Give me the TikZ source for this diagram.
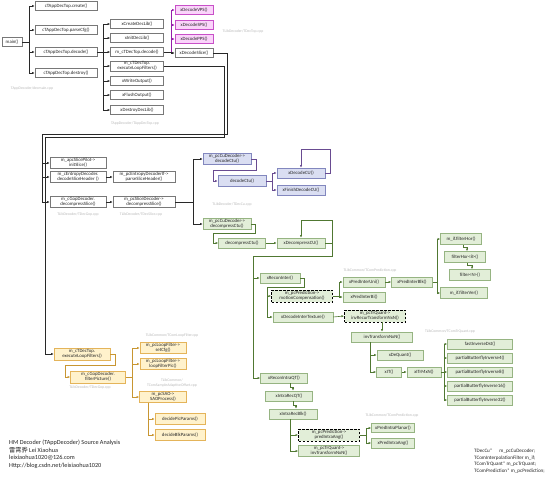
\documentclass[tikz,border=0pt]{standalone}
\usepackage{fontspec}
\setmainfont{Carlito}
\newfontfamily\cjk{Noto Sans CJK SC}
\usetikzlibrary{arrows.meta}
\definecolor{gbd}{RGB}{120,120,120}
\definecolor{pkf}{RGB}{250,212,250}
\definecolor{pkd}{RGB}{200,80,200}
\definecolor{pkc}{RGB}{150,30,170}
\definecolor{blf}{RGB}{218,222,242}
\definecolor{bld}{RGB}{130,135,190}
\definecolor{blc}{RGB}{105,75,145}
\definecolor{grf}{RGB}{226,238,216}
\definecolor{grd}{RGB}{150,180,130}
\definecolor{grc}{RGB}{80,120,50}
\definecolor{ogf}{RGB}{255,242,204}
\definecolor{ogd}{RGB}{228,180,90}
\definecolor{ogc}{RGB}{200,150,50}
\definecolor{lnc}{RGB}{40,40,40}
\tikzset{
 bx/.style={draw, rectangle, align=center, inner sep=0.3pt, font=\fontsize{4.8}{5.0}\selectfont, text=black!85, line width=0.5pt},
 sz/.style 2 args={minimum width=#1, minimum height=#2},
 gb/.style={bx, fill=white, draw=gbd},
 pk/.style={bx, fill=pkf, draw=pkd},
 bl/.style={bx, fill=blf, draw=bld},
 gr/.style={bx, fill=grf, draw=grd},
 dg/.style={bx, fill=grf, draw=black, line width=0.7pt, dash pattern=on 2.5pt off 1.5pt},
 og/.style={bx, fill=ogf, draw=ogd},
 lbl/.style={font=\fontsize{3.8}{4.2}\selectfont, text=gray!55, align=center, inner sep=0},
 con/.style={line width=0.6pt},
 arr/.style={-{Latex[length=2.6pt,width=2.2pt]}},
 kc/.style={con, draw=lnc},
 pc/.style={con, draw=pkc},
 bc/.style={con, draw=blc},
 gc/.style={con, draw=grc},
 oc/.style={con, draw=ogc},
}
\begin{document}
\begin{tikzpicture}[x=1pt,y=-1pt]
\fill[white] (0,0) rectangle (554,477);
\useasboundingbox (0,0) rectangle (554,477);

% ---- top gray section
\node[gb,sz={20}{9}] (main) at (12,42) {main()};
\node[gb,sz={62}{9}] (create) at (66,6) {cTAppDecTop.create()};
\node[gb,sz={62}{9}] (parse) at (66,30) {cTAppDecTop.parseCfg()};
\node[gb,sz={62}{9}] (decode) at (66,52) {cTAppDecTop.decode()};
\node[gb,sz={62}{9}] (destroy) at (66,73) {cTAppDecTop.destroy()};
\node[lbl] (l1) at (32,88) {TAppDecoder/decmain.cpp};

\node[gb,sz={53}{9}] (xcreate) at (137,24) {xCreateDecLib()};
\node[gb,sz={53}{9}] (xinit) at (137,38) {xInitDecLib()};
\node[gb,sz={53}{9}] (tdecode) at (137,52) {m\_cTDecTop.decode()};
\node[gb,sz={53}{10}] (exeloop) at (137,66) {m\_cTDecTop.\\executeLoopFilters()};
\node[gb,sz={53}{9}] (xwrite) at (137,81) {xWriteOutput()};
\node[gb,sz={53}{9}] (xflush) at (137,95) {xFlushOutput()};
\node[gb,sz={53}{9}] (xdestroy) at (137,110) {xDestroyDecLib()};
\node[lbl] (l2) at (135,123) {TAppDecoder/TAppDecTop.cpp};

\node[pk,sz={38}{9}] (vps) at (194,10) {xDecodeVPS()};
\node[pk,sz={38}{9}] (sps) at (194,25) {xDecodeSPS()};
\node[pk,sz={38}{9}] (pps) at (194,39) {xDecodePPS()};
\node[gb,sz={38}{9}] (xdecslice) at (194,53) {xDecodeSlice()};
\node[lbl] (l3) at (243,31) {TLibDecoder/TDecTop.cpp};

\draw[kc] (main.east) -- (29,42);
\foreach \t in {create,parse,decode,destroy} \draw[kc,arr] (29,42) |- (\t.west);
\draw[kc] (decode.east) -- (103,52);
\foreach \t in {xcreate,xinit,tdecode,exeloop,xwrite,xflush,xdestroy} \draw[kc,arr] (103,52) |- (\t.west);
\draw[kc] (tdecode.east) -- (171,52);
\foreach \t in {vps,sps,pps} \draw[pc,arr] (171,52) |- (\t.west);
\draw[kc,arr] (171,52) |- (xdecslice.west);

% ---- slice section
\node[gb,sz={56}{11}] (initslice) at (78,163) {m\_apcSlicePilot->\\initSlice()};
\node[gb,sz={56}{11}] (entropy) at (78,177) {m\_cEntropyDecoder.\\decodeSliceHeader ()};
\node[gb,sz={62}{11}] (parsesh) at (144,177) {m\_pcEntropyDecoderIf->\\parseSliceHeader()};
\node[gb,sz={56}{11}] (gopdec) at (78,202) {m\_cGopDecoder.\\decompressSlice()};
\node[gb,sz={62}{11}] (slicedec) at (144,202) {m\_pcSliceDecoder->\\decompressSlice()};
\node[lbl] (l4) at (78,214) {TLibDecoder/TDecGop.cpp};
\node[lbl] (l5) at (141,214) {TLibDecoder/TDecSlice.cpp};

\draw[kc] (xdecslice.east) -- (227,53) -- (227,134) -- (42,134) -- (42,202);
\foreach \t/\y in {initslice/163,entropy/177,gopdec/202} \draw[kc,arr] (42,\y) -- (\t.west);
\draw[kc,arr] (entropy.east) -- (parsesh.west);
\draw[kc,arr] (gopdec.east) -- (slicedec.west);

% ---- CU decode (blue)
\node[bl,sz={48}{11}] (cudecode) at (227,159) {m\_pcCuDecoder->\\decodeCtu()};
\node[bl,sz={48}{11}] (decodectu) at (242,181) {decodeCtu()};
\node[bl,sz={48}{10}] (xdecodecu) at (301,173) {xDecodeCU()};
\node[bl,sz={48}{10}] (xfinish) at (301,190) {xFinishDecodeCU()};
\node[lbl] (l6) at (232,204) {TLibDecoder/TDecCu.cpp};

\draw[kc] (slicedec.east) -- (193,202);
\draw[kc,arr] (193,202) |- (cudecode.west);
\draw[bc,arr] (cudecode.east) -- (256,159) |- (213,170) |- (decodectu.west);
\draw[bc] (decodectu.east) -- (272,181);
\draw[bc,arr] (272,181) |- (xdecodecu.west);
\draw[bc,arr] (272,181) |- (xfinish.west);
\draw[bc,arr] (xdecodecu.east) -- (330,173) -- (330,149) -- (301,149) -- (xdecodecu.north);

% ---- CU decompress (green)
\node[gr,sz={48}{11}] (cudecomp) at (227,224) {m\_pcCuDecoder->\\decompressCtu()};
\node[gr,sz={47}{10}] (decompctu) at (242,243) {decompressCtu()};
\node[gr,sz={48}{10}] (xdecompcu) at (301,243) {xDecompressCU()};
\draw[kc,arr] (193,202) |- (cudecomp.west);
\draw[gc,arr] (cudecomp.east) -- (255,224) |- (213,233) |- (decompctu.west);
\draw[gc,arr] (decompctu.east) -- (xdecompcu.west);
\draw[gc,arr] (xdecompcu.east) -- (332,243) -- (332,220) -- (301,220) -- (xdecompcu.north);
\draw[gc] (332,243) -- (332,256) -- (253,256) -- (253,378);

\node[gr,sz={40}{10}] (xreconinter) at (280,278) {xReconInter()};
\node[dg,sz={61}{12}] (mc) at (302,296) {m\_pcPrediction->\\motionCompensation()};
\node[gr,sz={60}{10}] (xdit) at (303,317) {xDecodeInterTexture()};
\node[gr,sz={42}{10}] (uni) at (364,282) {xPredInterUni()};
\node[gr,sz={42}{10}] (bi) at (364,297) {xPredInterBi()};
\node[gr,sz={41}{10}] (blk) at (412,282) {xPredInterBlk()};
\node[gr,sz={41}{11}] (fhor) at (461,239) {m\_if.filterHor()};
\node[gr,sz={41}{11}] (fhor8) at (465,257) {filterHor<8>()};
\node[gr,sz={41}{11}] (filtn) at (470,275) {filter<N>()};
\node[gr,sz={47}{11}] (fver) at (464,293) {m\_if.filterVer()};
\node[lbl] (l7) at (370,270) {TLibCommon/TComPrediction.cpp};

\draw[gc,arr] (253,278) -- (xreconinter.west);
\draw[gc,arr] (xreconinter.east) -- (304,278) |- (267,287) |- (mc.west);
\draw[gc,arr] (267,287) |- (xdit.west);
\draw[gc] (mc.east) -- (339,296);
\draw[gc,arr] (339,296) |- (uni.west);
\draw[gc,arr] (339,296) |- (bi.west);
\draw[gc,arr] (uni.east) -- (blk.west);
\draw[gc] (blk.east) -- (437,282);
\draw[gc,arr] (437,282) |- (fhor.west);
\draw[gc,arr] (437,282) |- (fver.west);
\draw[gc,arr] ([xshift=2]fhor.south) -- ++(0,3) -| ([xshift=2]fhor8.north);
\draw[gc,arr] ([xshift=2]fhor8.south) -- ++(0,3) -| ([xshift=2]filtn.north);

\node[dg,sz={61}{12}] (invrecur) at (375,316) {m\_pcTrQuant->\\invRecurTransformNxN()};
\node[gr,sz={61}{10}] (invT) at (382,337) {invTransformNxN()};
\node[gr,sz={46}{10}] (dequant) at (400,355) {xDeQuant()};
\node[gr,sz={25}{10}] (xit) at (389,372) {xIT()};
\node[gr,sz={34}{10}] (xitr) at (424,372) {xITrMxN()};
\node[gr,sz={65}{10}] (dst) at (480,344) {fastInverseDst()};
\node[gr,sz={65}{10}] (pb4) at (480,358) {partialButterflyInverse4()};
\node[gr,sz={65}{10}] (pb8) at (480,372) {partialButterflyInverse8()};
\node[gr,sz={65}{10}] (pb16) at (480,386) {partialButterflyInverse16()};
\node[gr,sz={65}{10}] (pb32) at (480,400) {partialButterflyInverse32()};
\node[lbl] (l8) at (450,331) {TLibCommon/TComTrQuant.cpp};

\draw[gc,arr] (xdit.east) -- (invrecur.west);
\draw[gc,arr] (invrecur.south -| invT.north) -- (invT.north);
\draw[gc,arr] (370,342) |- (dequant.west);
\draw[gc,arr] (370,342) |- (xit.west);
\draw[gc,arr] (xit.east) -- (xitr.west);
\draw[gc] (xitr.east) -- (444,372);
\foreach \t in {dst,pb4,pb8,pb16,pb32} \draw[gc,arr] (444,372) |- (\t.west);

\node[gr,sz={47}{10}] (recintra) at (284,378) {xReconIntraQT()};
\node[gr,sz={47}{10}] (recqt) at (289,396) {xIntraRecQT()};
\node[gr,sz={48}{10}] (recblk) at (293,414) {xIntraRecBlk()};
\node[dg,sz={61}{12}] (pang) at (329,435) {m\_pcPrediction->\\predIntraAng()};
\node[gr,sz={61}{11}] (invtq) at (329,451) {m\_pcTrQuant->\\invTransformNxN()};
\node[gr,sz={43}{9}] (planar) at (393,428) {xPredIntraPlanar()};
\node[gr,sz={43}{10}] (iang) at (393,443) {xPredIntraAng()};
\node[lbl] (l9) at (392,415) {TLibCommon/TComPrediction.cpp};

\draw[gc,arr] (253,378) -- (recintra.west);
\draw[gc,arr] ([xshift=6]recintra.south) -- ++(0,4) -| ([xshift=4]recqt.north);
\draw[gc,arr] ([xshift=4]recqt.south) -- ++(0,4) -| ([xshift=3]recblk.north);
\draw[gc,arr] ([xshift=-3]recblk.south) |- (pang.west);
\draw[gc,arr] ([xshift=-3]recblk.south) |- (invtq.west);
\draw[gc] (pang.east) -- (366,435);
\draw[gc,arr] (366,435) |- (planar.west);
\draw[gc,arr] (366,435) |- (iang.west);

% ---- loop filter (orange)
\node[og,sz={56}{12}] (oexe) at (82,354) {m\_cTDecTop.\\executeLoopFilters()};
\node[og,sz={55}{12}] (ofilt) at (98,377) {m\_cGopDecoder.\\filterPicture()};
\node[og,sz={46}{11}] (setcfg) at (163,348) {m\_pcLoopFilter->\\setCfg()};
\node[og,sz={46}{11}] (lfpic) at (163,364) {m\_pcLoopFilter->\\loopFilterPic()};
\node[og,sz={47}{11}] (sao) at (163,397) {m\_pcSAO->\\SAOProcess()};
\node[og,sz={50}{11}] (dpic) at (180,419) {decidePicParams()};
\node[og,sz={50}{11}] (dblk) at (180,435) {decideBlkParams()};
\node[lbl] (l10) at (172,335) {TLibCommon/TComLoopFilter.cpp};
\node[lbl] (l11) at (90,387) {TLibDecoder/TDecGop.cpp};
\node[lbl] (l12) at (172,383) {TLibCommon/\\TComSampleAdaptiveOffset.cpp};

\draw[kc,arr] (exeloop.east) -- (224,66) -- (224,137) -- (45,137) |- (oexe.west);
\draw[oc,arr] (oexe.east) -- (115,354) |- (65,365) |- (ofilt.west);
\draw[oc] (ofilt.east) -- (132,377);
\foreach \t in {setcfg,lfpic,sao} \draw[oc,arr] (132,377) |- (\t.west);
\draw[oc,arr] ([xshift=-15]sao.south) |- (dpic.west);
\draw[oc,arr] ([xshift=-15]sao.south) |- (dblk.west);

% ---- texts
\node[anchor=north west, align=left, inner sep=0, font=\fontsize{6.2}{7.6}\selectfont, text=black!85] (info) at (9,440)
 {HM Decoder (TAppDecoder) Source Analysis\\{\cjk 雷霄骅} Lei Xiaohua\\leixiaohua1020@126.com\\Http://blog.csdn.net/leixiaohua1020};
\node[anchor=north west, align=left, inner sep=0, font=\fontsize{5.1}{6.4}\selectfont, text=black!85] (vars) at (474,449)
 {TDecCu*\hspace{7pt}m\_pcCuDecoder;\\TComInterpolationFilter m\_if;\\TComTrQuant* m\_pcTrQuant;\\TComPrediction* m\_pcPrediction;};
\end{tikzpicture}
\end{document}
